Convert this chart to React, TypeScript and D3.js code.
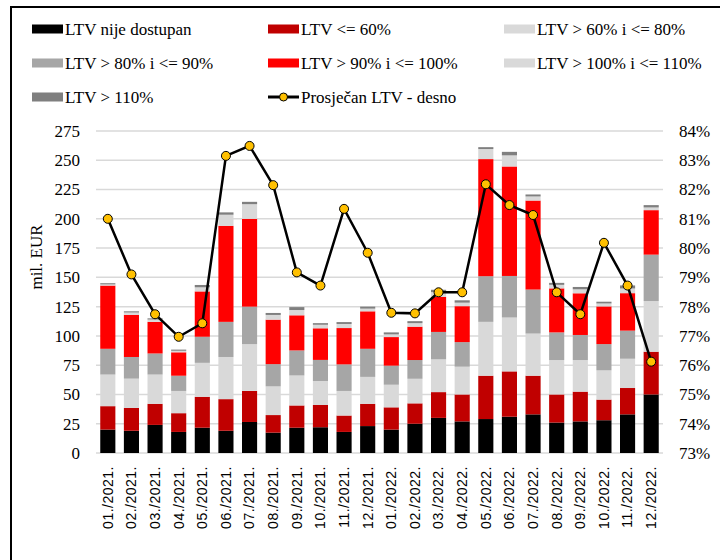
import React from 'react';
import * as d3 from 'd3';

// months on the x axis
const months = [
  '01./2021.', '02./2021.', '03./2021.', '04./2021.', '05./2021.', '06./2021.',
  '07./2021.', '08./2021.', '09./2021.', '10./2021.', '11./2021.', '12./2021.',
  '01./2022.', '02./2022.', '03./2022.', '04./2022.', '05./2022.', '06./2022.',
  '07./2022.', '08./2022.', '09./2022.', '10./2022.', '11./2022.', '12./2022.'
];

// mil. EUR per LTV bucket
const nije = [20, 19, 24, 18, 21.6, 19, 26.5, 17.4, 21.6, 22, 18, 23, 20, 25, 30, 27, 29, 31, 33, 26, 27, 28, 33, 50];
const le60 = [20, 19.5, 18, 16, 26.4, 27, 26.5, 15, 19, 19, 14, 19, 19, 17.4, 22, 23, 37, 38.7, 33, 24, 25.4, 17.6, 22.5, 36.5];
const r60_80 = [27, 25, 25, 19, 29, 36, 40, 24.5, 25.6, 20.5, 21, 23, 19.3, 21, 28, 23.7, 46, 46, 36, 29.4, 27, 25, 25, 43.3];
const r80_90 = [22, 18.5, 18, 13, 22.3, 30, 32, 19, 21.4, 18, 22.7, 24, 16.3, 16, 23.4, 21, 39, 35.5, 37.6, 23.6, 21.4, 22.4, 24, 39.6];
const r90_100 = [54, 36, 27, 20, 38.7, 82, 75, 38, 30, 27, 31, 32, 24.4, 28.5, 30, 30.7, 100, 93.5, 76, 37.6, 35.6, 32.2, 32, 38];
const r100_110 = [1, 2, 2, 1.3, 3.5, 9.5, 12.5, 4, 4.5, 3, 3.5, 2.3, 2.3, 3, 4, 3, 8.6, 9.5, 3.5, 3, 3.4, 2.5, 4, 2.3];
const gt110 = [1, 1, 1, 1, 2, 2, 2, 1.7, 2.5, 1.4, 1.6, 1.7, 1.7, 1.7, 2, 2, 1.6, 3, 1.7, 1.7, 2, 1.5, 2.6, 2];

// average LTV, right axis (%)
const avgLtv = [81.0, 79.1, 77.74, 76.97, 77.43, 83.15, 83.49, 82.15, 79.17, 78.72, 81.34, 79.84, 77.79, 77.77, 78.49, 78.49, 82.18, 81.47, 81.13, 78.49, 77.74, 80.18, 78.72, 76.12];

const series = [
  { key: 'nije', name: 'LTV nije dostupan', values: nije, color: '#000000' },
  { key: 'le60', name: 'LTV <= 60%', values: le60, color: '#c00000' },
  { key: 'r60_80', name: 'LTV > 60% i <= 80%', values: r60_80, color: '#d9d9d9' },
  { key: 'r80_90', name: 'LTV > 80% i <= 90%', values: r80_90, color: '#a6a6a6' },
  { key: 'r90_100', name: 'LTV > 90% i <= 100%', values: r90_100, color: '#ff0000' },
  { key: 'r100_110', name: 'LTV > 100% i <= 110%', values: r100_110, color: '#d9d9d9' },
  { key: 'gt110', name: 'LTV > 110%', values: gt110, color: '#7f7f7f' }
];
const lineName = 'Prosječan LTV - desno';

const leftTicks = d3.range(0, 276, 25);
const rightTicks = d3.range(73, 85, 1);

const serif = '"Liberation Serif", "Times New Roman", serif';
const sans = '"Liberation Sans", Arial, sans-serif';

export default function App() {
  const plot = { left: 96, right: 663, top: 131, bottom: 453 };

  const x = d3.scaleBand().domain(months).range([plot.left, plot.right]).paddingInner(0.36).paddingOuter(0.18);
  const y = d3.scaleLinear().domain([0, 275]).range([plot.bottom, plot.top]);
  const yR = d3.scaleLinear().domain([73, 84]).range([plot.bottom, plot.top]);

  const rows = months.map((m, i) => {
    const r: any = { month: m };
    series.forEach(s => { r[s.key] = s.values[i]; });
    return r;
  });
  const stacked = d3.stack().keys(series.map(s => s.key))(rows);

  const line = d3.line<number>()
    .x((d, i) => (x(months[i]) as number) + x.bandwidth() / 2)
    .y(d => yR(d));

  // legend: 3 columns, 3 rows
  const colX = [32, 268, 504];
  const rowY = [29, 63, 97];
  const legendItems = [...series.map(s => ({ name: s.name, color: s.color, line: false })), { name: lineName, color: '#000', line: true }];

  return (
    <svg width={720} height={560} style={{ position: 'absolute', left: 0, top: 0, background: '#fff' }}>
      <rect x={11} y={7} width={720} height={600} fill="#fff" stroke="#000" strokeWidth={2} />

      {legendItems.map((it, i) => {
        const cx = colX[i % 3];
        const cy = rowY[Math.floor(i / 3)];
        return (
          <g key={it.name}>
            {it.line ? (
              <g>
                <line x1={cx} x2={cx + 31} y1={cy} y2={cy} stroke="#000" strokeWidth={3} />
                <circle cx={cx + 15.5} cy={cy} r={4} fill="#ffc000" stroke="#000" strokeWidth={1} />
              </g>
            ) : (
              <rect x={cx} y={cy - 4.5} width={31} height={9} fill={it.color} />
            )}
            <text x={cx + 33} y={cy} dy="0.35em" fontFamily={serif} fontSize={17} fill="#000">{it.name}</text>
          </g>
        );
      })}

      {leftTicks.map(t => (
        <g key={'l' + t}>
          <line x1={plot.left} x2={plot.right} y1={y(t)} y2={y(t)} stroke="#d9d9d9" strokeWidth={1.5} />
          <text x={80} y={y(t)} dy="0.35em" textAnchor="end" fontFamily={serif} fontSize={17} fill="#000">{t}</text>
        </g>
      ))}
      {rightTicks.map(t => (
        <text key={'r' + t} x={679} y={yR(t)} dy="0.35em" fontFamily={serif} fontSize={17} fill="#000">{t}%</text>
      ))}

      <text transform="translate(36,257) rotate(-90)" textAnchor="middle" dy="0.35em" fontFamily={serif} fontSize={17} fill="#000">mil. EUR</text>

      {stacked.map((layer, li) => (
        <g key={layer.key} fill={series[li].color}>
          {layer.map((d, i) => (
            <rect key={i} x={x(months[i])} y={y(d[1])} width={x.bandwidth()} height={y(d[0]) - y(d[1])} />
          ))}
        </g>
      ))}

      {months.map(m => (
        <text key={m} transform={`translate(${(x(m) as number) + x.bandwidth() / 2},466) rotate(-90)`}
          textAnchor="end" dy="0.35em" fontFamily={sans} fontSize={14} letterSpacing={0.5} fill="#000">{m}</text>
      ))}

      <path d={line(avgLtv) || ''} fill="none" stroke="#000" strokeWidth={2.5} />
      {avgLtv.map((v, i) => (
        <circle key={i} cx={(x(months[i]) as number) + x.bandwidth() / 2} cy={yR(v)} r={4.5} fill="#ffc000" stroke="#000" strokeWidth={1} />
      ))}
    </svg>
  );
}
